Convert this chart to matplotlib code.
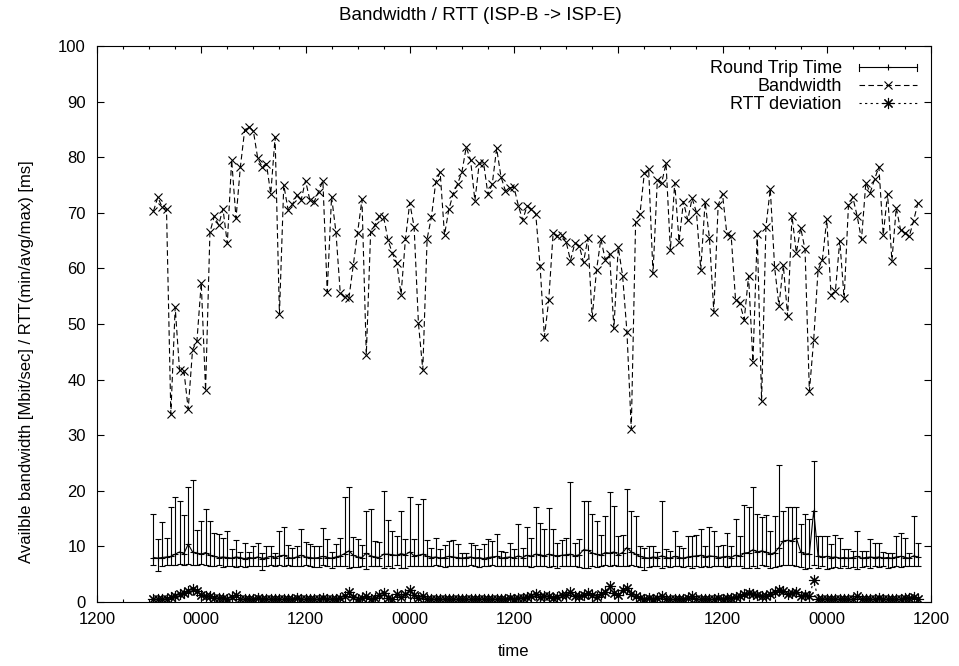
import numpy as np
import pandas as pd
import matplotlib
matplotlib.use("Agg")
import matplotlib.pyplot as plt
import matplotlib.dates as mdates
from matplotlib.lines import Line2D
from matplotlib.legend_handler import HandlerBase

plt.rcParams['font.family'] = ['Liberation Sans', 'DejaVu Sans']

# one sample every 30 minutes
bandwidth = [70.3, 72.8, 71.0, 70.6, 33.8, 53.0, 41.7, 41.6, 34.7, 45.4,
             46.9, 57.4, 38.1, 66.5, 69.4, 67.8, 70.7, 64.5, 79.5, 69.0,
             78.2, 84.9, 85.5, 84.7, 79.8, 78.3, 78.8, 73.4, 83.6, 51.8,
             75.0, 70.5, 71.5, 73.2, 72.3, 75.8, 72.3, 72.0, 73.8, 75.8,
             55.8, 72.9, 66.6, 55.6, 54.9, 54.7, 60.6, 66.4, 72.4, 44.5,
             66.6, 67.8, 69.4, 69.2, 65.1, 62.7, 61.0, 55.3, 65.2, 71.8,
             67.5, 50.1, 41.8, 65.3, 69.3, 75.6, 77.3, 66.0, 70.6, 73.4,
             75.2, 77.3, 81.8, 79.5, 72.2, 78.9, 79.0, 73.3, 75.2, 81.6,
             76.5, 74.0, 74.5, 74.6, 71.3, 68.7, 71.2, 70.7, 69.8, 60.5,
             47.7, 54.3, 66.3, 65.9, 66.0, 64.8, 61.4, 64.5, 64.1, 61.1,
             65.4, 51.2, 59.7, 65.3, 61.6, 62.6, 49.2, 63.8, 58.7, 48.6,
             31.1, 68.4, 69.8, 77.1, 77.8, 59.1, 75.9, 75.4, 78.9, 63.3,
             75.4, 64.8, 72.0, 68.7, 72.6, 70.1, 59.8, 72.0, 65.4, 52.2,
             71.4, 73.4, 66.2, 65.8, 54.4, 53.7, 50.8, 58.6, 43.2, 66.2,
             36.2, 67.5, 74.3, 60.2, 53.3, 60.6, 51.4, 69.4, 62.8, 67.3,
             63.4, 37.9, 47.2, 59.7, 61.6, 68.8, 55.2, 56.0, 65.0, 54.6,
             71.4, 72.8, 69.4, 65.2, 75.4, 73.6, 76.0, 78.3, 66.0, 73.4,
             61.4, 70.9, 66.9, 66.4, 65.8, 68.6, 71.8]

rtt_min = [6.6, 5.5, 6.5, 6.6, 6.7, 6.6, 6.8, 6.7, 6.8, 6.7,
           6.7, 6.8, 6.6, 6.5, 6.5, 6.6, 6.3, 6.5, 6.4, 6.3,
           6.4, 6.3, 6.4, 6.5, 6.5, 5.8, 6.5, 6.6, 6.5, 6.6,
           6.5, 6.6, 6.5, 6.5, 6.4, 6.6, 6.5, 6.3, 6.3, 6.6,
           6.4, 6.2, 6.5, 6.5, 6.5, 6.1, 6.3, 6.3, 6.4, 6.0,
           6.5, 6.5, 6.4, 6.1, 6.5, 6.2, 6.6, 6.1, 6.2, 6.5,
           6.5, 6.5, 6.4, 6.5, 6.4, 6.6, 6.4, 6.3, 6.4, 6.5,
           6.5, 6.4, 6.5, 6.6, 6.5, 6.3, 6.5, 6.4, 6.6, 6.4,
           6.5, 6.4, 6.4, 6.5, 6.5, 6.4, 6.4, 6.3, 6.4, 6.5,
           6.4, 6.3, 6.5, 6.2, 6.5, 6.4, 6.5, 6.4, 6.3, 6.2,
           6.2, 6.5, 6.3, 6.4, 6.6, 6.5, 6.6, 6.4, 6.5, 6.5,
           6.6, 6.4, 6.3, 5.8, 6.3, 6.4, 6.5, 6.1, 6.4, 6.3,
           6.5, 6.4, 6.3, 6.4, 6.2, 6.4, 6.3, 6.5, 6.3, 6.4,
           6.4, 6.5, 6.3, 6.4, 6.5, 6.4, 6.2, 6.1, 6.5, 6.2,
           6.6, 6.5, 6.2, 6.3, 6.5, 6.6, 6.7, 6.6, 6.4, 6.3,
           5.9, 6.2, 6.7, 6.2, 6.4, 6.0, 6.1, 6.3, 6.2, 6.4,
           6.2, 6.3, 6.0, 6.3, 6.4, 6.2, 6.5, 6.3, 6.4, 6.2,
           6.3, 6.4, 6.3, 6.5, 6.4, 6.5, 6.4]

rtt_avg = [8.0, 7.9, 8.0, 8.1, 8.2, 8.6, 9.0, 8.7, 10.4, 9.0,
           8.8, 8.6, 8.9, 8.4, 8.2, 8.0, 8.1, 8.0, 7.9, 8.1,
           8.0, 7.8, 8.0, 7.9, 8.1, 7.8, 8.0, 8.2, 7.9, 8.3,
           8.4, 8.0, 7.9, 8.1, 8.4, 8.1, 8.0, 7.9, 8.0, 8.2,
           8.0, 7.9, 8.1, 8.3, 8.7, 9.2, 8.4, 8.1, 8.0, 8.8,
           8.3, 8.1, 8.0, 8.6, 8.6, 8.5, 8.4, 8.7, 8.5, 9.0,
           8.3, 8.4, 8.6, 8.2, 8.0, 8.1, 7.9, 8.0, 8.2, 8.1,
           8.0, 7.9, 8.0, 8.1, 7.9, 8.0, 7.8, 8.0, 8.1, 8.2,
           7.9, 8.0, 8.1, 7.9, 8.3, 8.0, 8.4, 8.2, 8.6, 8.5,
           8.3, 8.6, 8.4, 8.3, 8.4, 8.5, 8.6, 8.3, 8.5, 9.4,
           9.3, 8.8, 8.6, 8.4, 8.9, 8.8, 9.0, 8.5, 8.9, 9.8,
           9.0, 8.6, 8.2, 8.0, 7.9, 8.1, 8.0, 8.3, 8.0, 7.9,
           8.2, 8.0, 7.9, 8.1, 8.2, 8.3, 8.4, 8.1, 8.3, 8.2,
           8.0, 8.1, 8.2, 8.0, 8.4, 8.2, 8.8, 8.9, 9.4, 9.0,
           9.2, 9.0, 8.6, 8.9, 9.8, 11.0, 11.1, 11.0, 11.5, 9.0,
           8.6, 8.7, 16.4, 8.3, 8.1, 8.2, 8.0, 8.1, 7.9, 8.0,
           7.9, 8.0, 8.2, 7.9, 8.0, 8.1, 8.0, 8.1, 7.9, 8.0,
           7.9, 8.1, 8.2, 8.0, 7.9, 8.3, 8.1]

rtt_max = [15.8, 11.3, 14.3, 11.6, 17.0, 18.8, 18.2, 15.7, 20.7, 21.9,
           12.9, 14.6, 16.7, 14.6, 12.5, 12.2, 11.6, 12.8, 9.5, 11.2,
           9.0, 10.6, 9.0, 10.1, 10.7, 8.8, 10.1, 10.1, 8.9, 12.7,
           13.4, 10.3, 9.7, 10.0, 13.1, 10.8, 10.4, 10.1, 10.1, 13.3,
           11.3, 9.0, 10.4, 11.6, 18.9, 20.6, 11.7, 11.3, 10.2, 16.4,
           16.8, 10.9, 10.8, 20.0, 14.7, 12.7, 11.8, 16.3, 11.4, 18.8,
           11.4, 17.6, 18.6, 11.2, 9.8, 11.5, 9.5, 10.2, 11.0, 11.1,
           10.5, 8.9, 8.9, 10.6, 10.3, 9.5, 10.4, 11.4, 10.9, 12.2,
           9.2, 9.0, 10.7, 9.5, 14.0, 9.8, 13.4, 11.6, 17.0, 14.2,
           13.1, 16.9, 13.1, 10.6, 11.2, 11.6, 21.6, 10.7, 11.4, 18.1,
           18.2, 15.9, 14.6, 12.1, 15.4, 19.7, 17.2, 11.9, 12.0, 20.3,
           16.3, 15.5, 10.0, 9.8, 10.0, 10.1, 9.0, 18.2, 9.5, 9.2,
           12.8, 10.0, 9.7, 11.8, 11.9, 12.0, 13.1, 10.0, 13.4, 12.8,
           10.0, 10.3, 12.5, 10.0, 15.0, 11.8, 17.4, 17.0, 20.6, 15.9,
           15.2, 15.7, 12.7, 15.4, 24.6, 16.3, 17.0, 17.0, 17.1, 14.0,
           15.8, 14.9, 25.4, 11.9, 11.9, 11.9, 10.5, 12.1, 11.5, 9.5,
           9.5, 9.2, 12.8, 9.2, 9.2, 11.4, 10.7, 10.6, 9.0, 8.9,
           8.8, 11.9, 12.4, 11.5, 8.8, 15.5, 10.6]

rtt_dev = [0.5, 0.6, 0.5, 0.6, 0.9, 1.0, 1.4, 1.6, 2.0, 2.4,
           2.0, 1.2, 1.1, 1.0, 0.8, 0.7, 0.8, 0.6, 0.9, 1.2,
           0.6, 0.5, 0.6, 0.5, 0.7, 0.5, 0.6, 0.5, 0.5, 0.6,
           0.5, 0.6, 0.5, 0.8, 0.6, 0.5, 0.6, 0.5, 0.6, 0.7,
           0.5, 0.6, 0.5, 0.7, 1.1, 1.8, 0.9, 0.6, 0.8, 1.0,
           0.6, 0.7, 1.2, 1.7, 0.8, 0.6, 1.4, 0.9, 1.5, 2.2,
           1.2, 0.8, 1.0, 0.6, 0.5, 0.6, 0.5, 0.6, 0.5, 0.5,
           0.6, 0.5, 0.5, 0.6, 0.5, 0.5, 0.6, 0.5, 0.6, 0.5,
           0.6, 0.5, 0.7, 0.6, 0.8, 0.7, 0.9, 1.0, 1.4, 0.9,
           1.1, 1.0, 0.8, 0.9, 1.3, 1.2, 1.8, 1.1, 1.0, 1.2,
           1.6, 1.2, 0.9, 1.4, 1.8, 2.8, 1.6, 1.3, 2.2, 2.6,
           1.5, 1.0, 0.7, 0.6, 0.7, 0.6, 0.8, 1.0, 0.6, 0.5,
           0.6, 0.5, 0.6, 0.7, 1.0, 0.6, 0.5, 0.6, 0.5, 0.6,
           0.7, 0.6, 0.8, 0.7, 0.9, 1.0, 1.4, 1.6, 1.5, 1.2,
           1.0, 1.1, 1.4, 1.8, 2.1, 2.0, 1.5, 1.7, 1.8, 1.0,
           1.2, 1.0, 3.9, 0.6, 0.5, 0.6, 0.5, 0.6, 0.5, 0.6,
           0.5, 0.6, 1.0, 0.6, 0.5, 0.6, 0.5, 0.7, 0.6, 0.5,
           0.6, 0.5, 0.6, 0.8, 0.7, 0.9, 0.6]

times = pd.date_range("2005-06-13 18:30", periods=len(bandwidth), freq="30min")
t_start = pd.Timestamp("2005-06-13 12:00")
t_end = pd.Timestamp("2005-06-17 12:00")

lw = 0.8
star = (8, 2, 0)  # gnuplot style '*' (plus and cross together)


class HandlerErrLine(HandlerBase):
    # gnuplot errorlines key sample:  |---+---|
    def create_artists(self, legend, orig_handle, xdescent, ydescent,
                       width, height, fontsize, trans):
        y = height / 2 - ydescent
        x0 = -xdescent
        x1 = -xdescent + width
        cap = 2.5
        arts = [Line2D([x0, x1], [y, y], color='black', lw=lw),
                Line2D([x0, x0], [y - cap, y + cap], color='black', lw=lw),
                Line2D([x1, x1], [y - cap, y + cap], color='black', lw=lw),
                Line2D([(x0 + x1) / 2], [y], color='black', ls='none',
                       marker='+', ms=5, mew=lw)]
        for a in arts:
            a.set_transform(trans)
        return arts


fig = plt.figure(figsize=(9.59, 6.66), dpi=100)
ax = fig.add_axes([97/959, 1 - 602/666, (931 - 97)/959, (602 - 46)/666])

avg = np.array(rtt_avg)
err_lo = avg - np.array(rtt_min)
err_hi = np.array(rtt_max) - avg

ax.errorbar(times, avg, yerr=[err_lo, err_hi], fmt='-', color='black', lw=lw,
            elinewidth=lw, capsize=2.5, capthick=lw, marker='+', ms=5, mew=lw)
ax.plot(times, bandwidth, color='black', lw=lw, ls=(0, (5, 3)),
        marker='x', ms=6, mew=lw)
ax.plot(times, rtt_dev, color='black', lw=lw, ls=(0, (2, 3)),
        marker=star, ms=8, mew=lw)

ax.set_xlim(t_start, t_end)
ax.set_ylim(0, 100)
ax.set_yticks(range(0, 101, 10))
ax.xaxis.set_major_locator(mdates.HourLocator(byhour=[0, 12]))
ax.xaxis.set_minor_locator(mdates.HourLocator(byhour=range(0, 24, 3)))
ax.xaxis.set_major_formatter(mdates.DateFormatter('%H%M'))

ax.tick_params(which='both', direction='in', top=True, right=True, labelsize=12)
ax.tick_params(which='major', length=5, width=0.8)
ax.tick_params(which='minor', length=2.5, width=0.8)
ax.tick_params(axis='y', pad=8)
ax.tick_params(axis='x', pad=7)
for s in ax.spines.values():
    s.set_linewidth(0.8)

fig.text(480/959, 1 - 15/666, "Bandwidth / RTT (ISP-B -> ISP-E)",
         ha='center', va='center', fontsize=13.5)
ax.set_xlabel("time", fontsize=12)
ax.set_ylabel("Availble bandwidth [Mbit/sec] / RTT(min/avg/max) [ms]", fontsize=12)
ax.xaxis.set_label_coords(0.5, -0.075)
ax.yaxis.set_label_coords(-0.075, (602 - 362) / 556)

# legend styled like gnuplot: text on the left, sample on the right
rtt_h = Line2D([], [], color='black', lw=lw)
bw_h = Line2D([], [], color='black', lw=lw, ls=(0, (5, 3)), marker='x', ms=6, mew=lw)
dev_h = Line2D([], [], color='black', lw=lw, ls=(0, (2, 3)), marker=star, ms=8, mew=lw)
ax.legend([rtt_h, bw_h, dev_h],
          ["Round Trip Time", "Bandwidth", "RTT deviation"],
          handler_map={rtt_h: HandlerErrLine()},
          loc='upper right', frameon=False, markerfirst=False, numpoints=1,
          fontsize=13, handlelength=3.2, handletextpad=0.95, labelspacing=0.05,
          borderaxespad=0.45, borderpad=0.35)

fig.savefig("out.png", dpi=100)
